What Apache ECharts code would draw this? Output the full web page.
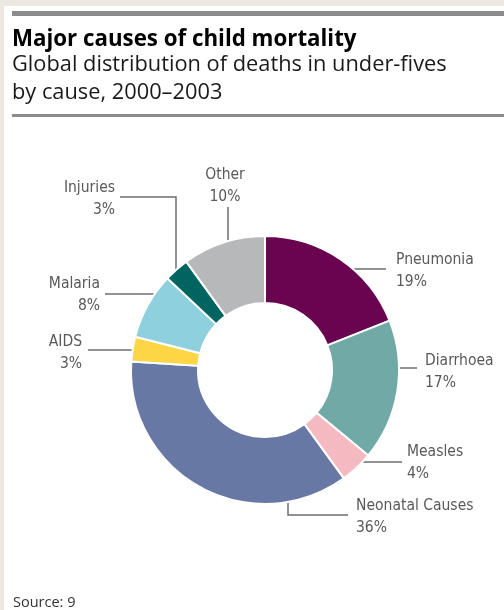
<!DOCTYPE html>
<html>
<head>
<meta charset="utf-8">
<script src="https://cdn.jsdelivr.net/npm/echarts@6/dist/echarts.min.js"></script>
<style>
  html, body { margin: 0; padding: 0; background: #ece8e1; }
  #chart { width: 504px; height: 610px; }
</style>
</head>
<body>
<div id="chart"></div>
<script>
// ---- data ----
const categories = ['Pneumonia', 'Diarrhoea', 'Measles', 'Neonatal Causes', 'AIDS', 'Malaria', 'Injuries', 'Other'];
const shares = [19, 17, 4, 36, 3, 8, 3, 10];
const sliceColors = ['#6a0451', '#70a9a6', '#f5bac1', '#6878a5', '#fed545', '#8fd0df', '#006560', '#b7b8ba'];
const titleText = 'Major causes of child mortality';
const subtitleText = 'Global distribution of deaths in under-fives\nby cause, 2000\u20132003';
const sourceText = 'Source: 9';

// ---- layout (label placement relative to pie centre) ----
const CENTER = [265, 370];
const labelPlacement = {
  'Pneumonia':       { tx: 131, ty: -99,  align: 'left',   line: [[74, -101], [100, -101], [121, -101]] },
  'Diarrhoea':       { tx: 160, ty: 2,    align: 'left',   line: [[118, -2], [135, -2], [152, -2]] },
  'Measles':         { tx: 142, ty: 93,   align: 'left',   line: [[88, 92], [110, 92], [137, 92]] },
  'Neonatal Causes': { tx: 91,  ty: 147,  align: 'left',   line: [[23, 117], [23, 145], [83, 145]] },
  'AIDS':            { tx: -183, ty: -17, align: 'right',  line: [[-126, -20], [-150, -20], [-177, -20]] },
  'Malaria':         { tx: -165, ty: -75, align: 'right',  line: [[-99, -76], [-130, -76], [-160, -76]] },
  'Injuries':        { tx: -150, ty: -171, align: 'right', line: [[-89, -92], [-89, -173], [-145, -173]] },
  'Other':           { tx: -40, ty: -184, align: 'center', line: [[-37, -119], [-37, -140], [-37, -163]] }
};

const chart = echarts.init(document.getElementById('chart'), null, { renderer: 'canvas' });

chart.setOption({
  backgroundColor: '#ece8e1',
  animation: false,
  graphic: [
    { type: 'rect', shape: { x: 4, y: 6, width: 500, height: 604 }, style: { fill: '#ffffff' }, z: -10 },
    { type: 'rect', shape: { x: 12, y: 11, width: 492, height: 5 }, style: { fill: '#8c8c8c' } },
    { type: 'rect', shape: { x: 12, y: 114, width: 492, height: 3 }, style: { fill: '#8c8c8c' } }
  ],
  title: [
    {
      text: titleText, left: 7, top: 21.5,
      textStyle: { fontFamily: 'Open Sans', fontWeight: 'bold', fontSize: 22.3, color: '#000000', lineHeight: 26 }
    },
    {
      text: subtitleText, left: 7, top: 46.5,
      textStyle: { fontFamily: 'Open Sans', fontWeight: 'normal', fontSize: 21.8, color: '#1a1a1a', lineHeight: 27.5 }
    },
    {
      text: sourceText, left: 8, top: 587.5,
      textStyle: { fontFamily: 'Open Sans', fontWeight: 'normal', fontSize: 14.5, color: '#333333', lineHeight: 20 }
    }
  ],
  series: [{
    type: 'pie',
    center: CENTER,
    radius: [67, 134],
    startAngle: 90,
    clockwise: true,
    avoidLabelOverlap: false,
    emphasis: { disabled: true },
    itemStyle: { borderColor: '#ffffff', borderWidth: 2 },
    data: categories.map((name, i) => ({ name: name, value: shares[i], itemStyle: { color: sliceColors[i] } })),
    label: {
      show: true,
      position: 'outside',
      formatter: '{b}\n{c}%',
      fontFamily: '"Liberation Sans Narrow", "DejaVu Sans Condensed", "Open Sans"',
      fontSize: 15.5,
      lineHeight: 22,
      color: '#58595b'
    },
    labelLine: {
      show: true,
      lineStyle: { color: '#6d6e70', width: 1.5 }
    },
    labelLayout: function (params) {
      const name = categories[params.dataIndex];
      const p = labelPlacement[name];
      return {
        x: CENTER[0] + p.tx,
        y: CENTER[1] + p.ty,
        align: p.align,
        verticalAlign: 'middle',
        labelLinePoints: p.line.map(pt => [CENTER[0] + pt[0], CENTER[1] + pt[1]])
      };
    }
  }]
});
</script>
</body>
</html>
